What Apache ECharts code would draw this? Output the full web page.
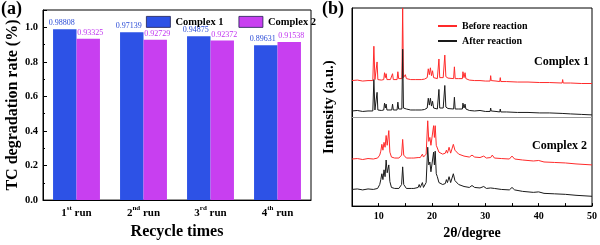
<!DOCTYPE html>
<html><head><meta charset="utf-8">
<script src="https://cdn.jsdelivr.net/npm/echarts@6/dist/echarts.min.js"></script>
<style>html,body{margin:0;padding:0;background:#fff}#c{width:600px;height:245px}</style>
</head><body><div id="c"></div><script>
// ---- Panel (a) data ----
const categories = ['1st run', '2nd run', '3rd run', '4th run'];
const complex1Rates = [0.98808, 0.97139, 0.94875, 0.89631];
const complex2Rates = [0.93325, 0.92729, 0.92372, 0.91538];
const seriesNamesA = ['Complex 1', 'Complex 2'];

// ---- Panel (b) data: [2θ, intensity (a.u.)] ----
const c1Before = [[5,128],[6,128.5],[7,127.5],[8,128],[8.9,128],[9.1,163],[9.3,129],[9.55,129],[9.7,147],[9.85,129],[10.5,128.5],[10.95,129],[11.1,136],[11.25,131],[11.4,135],[11.55,129],[12.2,129],[12.45,129],[12.6,135],[12.75,129],[13.45,129],[13.6,137],[13.75,130],[14.35,130],[14.5,202],[14.65,131],[14.85,130],[15.0,134],[15.2,130],[16,129],[16.85,129],[17.0,131],[17.15,129],[18,129],[18.6,129.5],[19.1,131],[19.3,140],[19.5,134],[19.7,141],[19.9,133],[20.1,138],[20.3,131],[21.0,130],[21.15,131],[21.3,150],[21.45,131],[22.1,131],[22.4,154],[22.6,132],[23,130.5],[24.05,130],[24.2,142],[24.35,130],[25,130],[25.7,130],[25.8,137],[26.0,131],[26.2,136],[26.35,130],[27,128.5],[28,128],[29,128],[30,127.5],[30.9,127.5],[31.0,133],[31.1,128],[32,127.5],[32.7,127],[32.8,131],[32.9,127],[34,127],[36,126.5],[38,126.5],[40.2,126],[40.3,128],[40.4,126],[42,126],[44.4,125.5],[44.5,129],[44.6,125.5],[46,125.5],[48,125],[50,125]];
const c1After = [[5,97],[6,97.5],[7,96.5],[8,97],[8.9,97],[9.1,129],[9.3,98],[9.55,98],[9.7,116],[9.85,98],[10.5,97.5],[10.95,98],[11.1,105],[11.25,100],[11.4,104],[11.55,98],[12.45,98],[12.6,104],[12.75,98],[13.45,98],[13.6,106],[13.75,99],[14.35,99],[14.5,160],[14.65,100],[14.85,99],[15.0,102],[15.2,99],[16,98],[16.85,98],[17.0,100],[17.15,98],[18,98],[18.6,98.5],[19.1,100],[19.3,110],[19.5,103],[19.7,110],[19.9,102],[20.1,107],[20.3,100],[21.0,99],[21.3,119],[21.45,100],[22.1,100],[22.4,123],[22.6,101],[23,99.5],[24.05,99],[24.2,111],[24.35,99],[25,99],[25.7,99],[25.8,105],[26.0,100],[26.2,104],[26.35,99],[27,97.5],[28,97],[29,97.5],[30,96.5],[30.9,96.5],[31.0,100],[31.1,97],[32,96.5],[32.7,96],[32.8,99],[32.9,96],[34,96],[36,95.5],[38,95.5],[40.2,95],[40.3,96],[40.4,95],[42,95],[44.4,94.5],[44.5,96],[44.6,94.5],[46,94],[48,93.5],[50,93]];
const c2Before = [[5,48],[6,48.5],[7,47.5],[8,48.5],[9,48],[9.8,49],[10.2,52],[10.4,56],[10.6,63],[10.8,57],[11.0,65],[11.2,60],[11.4,72],[11.6,62],[11.9,77],[12.1,55],[12.4,50],[13,49],[13.8,49],[14.3,52],[14.5,68],[14.7,52],[15.2,49],[16.2,49],[16.4,51],[16.6,49],[17.4,49.5],[17.6,51],[17.8,49.5],[18.0,50],[18.2,53],[18.4,50],[18.9,53],[19.2,87],[19.4,66],[19.6,70],[19.8,62],[20.0,60],[20.3,82],[20.45,70],[20.6,82],[20.8,62],[21.0,60],[21.3,55],[22,53],[22.5,54],[22.7,57],[22.9,54],[23.2,60],[23.5,54],[23.8,56],[24.0,63],[24.3,57],[25,53],[26,51],[27,50],[27.5,52],[28,50],[29,49.5],[29.7,51],[30.2,49],[31,49.5],[31.3,52],[31.7,49],[33,48.5],[34.5,48],[35.0,51],[35.5,48],[37,47],[39,46],[40,46.5],[41,45],[43,44.5],[45,44],[47,43],[50,42]];
const c2After = [[5,17],[6,17.5],[7,16.5],[8,17.5],[9,17],[9.8,18],[10.2,22],[10.4,27],[10.6,33],[10.8,27],[11.0,37],[11.2,30],[11.4,47],[11.6,34],[11.9,42],[12.1,25],[12.4,19],[13,18],[13.8,18],[14.3,22],[14.5,40],[14.7,22],[15.2,18],[16.2,18],[16.4,20],[16.6,18],[17.4,19],[17.6,22],[17.8,19],[18.0,20],[18.2,24],[18.4,19],[18.9,24],[19.2,60],[19.4,42],[19.6,45],[19.8,35],[20.0,33],[20.3,55],[20.45,42],[20.6,56],[20.8,33],[21.0,30],[21.3,24],[22,22],[22.5,23],[22.7,27],[22.9,24],[23.2,30],[23.5,24],[23.8,26],[24.0,33],[24.3,26],[25,22],[26,20],[27,19],[27.5,21],[28,19],[29,18.5],[29.7,20],[30.2,18],[31,18.5],[31.3,20],[31.7,18],[33,17],[34.5,16.5],[35.0,19],[35.5,16.5],[37,15],[39,14],[40,14.5],[41,13],[43,12.5],[45,12],[47,11],[50,10]];
const separatorLevel = 91;
const seriesNamesB = ['Before reaction', 'After reaction'];

// ---- Styling ----
const serif = 'Liberation Serif';
const blue = '#2d52e6', magenta = '#c83ff0';
const red = '#ff2a2a', black = '#1a1a1a';

function runLabel(v) {
  const m = /^(\d)(st|nd|rd|th)(.*)$/.exec(v);
  return m ? '{n|' + m[1] + '}{s|' + m[2] + '}{n|' + m[3] + '}' : v;
}

const chart = echarts.init(document.getElementById('c'), null, {renderer: 'canvas'});
chart.setOption({
  animation: false,
  textStyle: {fontFamily: serif},
  grid: [
    {left: 43, top: 10, width: 268, height: 199, show: true, borderColor: '#000', borderWidth: 1, containLabel: false},
    {left: 352, top: 8, width: 241, height: 202, show: true, borderColor: '#000', borderWidth: 1, containLabel: false}
  ],
  legend: [
    {data: seriesNamesA, left: 141, top: 11, itemWidth: 24, itemHeight: 11, itemGap: 15, icon: 'rect',
     textStyle: {fontFamily: serif, fontWeight: 'bold', fontSize: 10.5, color: '#000'},
     itemStyle: {borderColor: '#202050', borderWidth: 0.8}},
    {data: seriesNamesB, orient: 'vertical', left: 433, top: 16, itemWidth: 19, itemHeight: 2, itemGap: 5, icon: 'rect',
     textStyle: {fontFamily: serif, fontWeight: 'bold', fontSize: 10, color: '#000'}}
  ],
  xAxis: [
    {type: 'category', gridIndex: 0, data: categories,
     axisLine: {lineStyle: {color: '#000', width: 1}},
     axisTick: {inside: true, length: 4, lineStyle: {color: '#000'}},
     axisLabel: {interval: 0, margin: 5, color: '#000', formatter: runLabel,
       rich: {n: {fontFamily: serif, fontWeight: 'bold', fontSize: 11, color: '#000', lineHeight: 14, verticalAlign: 'bottom'},
              s: {fontFamily: serif, fontWeight: 'bold', fontSize: 7, color: '#000', lineHeight: 14, verticalAlign: 'top', padding: [0, 0, 6, 0]}}},
     name: 'Recycle times', nameLocation: 'middle', nameGap: 19,
     nameTextStyle: {fontFamily: serif, fontWeight: 'bold', fontSize: 16, color: '#000'}},
    {type: 'value', gridIndex: 1, min: 5, max: 50, interval: 5, splitLine: {show: false},
     axisLine: {lineStyle: {color: '#000', width: 1}},
     axisTick: {inside: true, length: 3, lineStyle: {color: '#000'}},
     axisLabel: {margin: 5, color: '#000', fontFamily: serif, fontWeight: 'bold', fontSize: 10,
       formatter: v => (v % 10 === 0 ? String(v) : '')},
     name: '2θ/degree', nameLocation: 'middle', nameGap: 19,
     nameTextStyle: {fontFamily: serif, fontWeight: 'bold', fontSize: 14, color: '#000'}}
  ],
  yAxis: [
    {type: 'value', gridIndex: 0, min: 0, max: 1.1, interval: 0.2, splitLine: {show: false},
     axisLine: {show: true, lineStyle: {color: '#000', width: 1}},
     axisTick: {show: true, inside: true, length: 4, lineStyle: {color: '#000'}},
     minorTick: {show: true, splitNumber: 2, length: 2, lineStyle: {color: '#000'}},
     axisLabel: {showMaxLabel: false, margin: 5, color: '#000', fontFamily: serif, fontWeight: 'bold', fontSize: 10.5,
       formatter: v => v.toFixed(1)},
     name: 'TC degradation rate (%)', nameLocation: 'middle', nameGap: 22, nameRotate: 90,
     nameTextStyle: {fontFamily: serif, fontWeight: 'bold', fontSize: 16, color: '#000'}},
    {type: 'value', gridIndex: 1, min: 0, max: 202, splitLine: {show: false},
     axisLine: {show: true, lineStyle: {color: '#000', width: 1}},
     axisTick: {show: false}, axisLabel: {show: false},
     name: 'Intensity (a.u.)', nameLocation: 'middle', nameGap: 15, nameRotate: 90,
     nameTextStyle: {fontFamily: serif, fontWeight: 'bold', fontSize: 15, color: '#000'}}
  ],
  graphic: [
    {type: 'text', left: 1, top: 0, style: {text: '(a)', fontFamily: serif, fontWeight: 'bold', fontSize: 18, fill: '#000'}},
    {type: 'text', left: 322, top: 0, style: {text: '(b)', fontFamily: serif, fontWeight: 'bold', fontSize: 18, fill: '#000'}},
    {type: 'text', left: 534, top: 56, style: {text: 'Complex 1', fontFamily: serif, fontWeight: 'bold', fontSize: 12, fill: '#000'}},
    {type: 'text', left: 532, top: 140, style: {text: 'Complex 2', fontFamily: serif, fontWeight: 'bold', fontSize: 12, fill: '#000'}}
  ],
  series: [
    {name: seriesNamesA[0], type: 'bar', xAxisIndex: 0, yAxisIndex: 0, data: complex1Rates,
     barGap: '0%', barCategoryGap: '30%', itemStyle: {color: blue},
     label: {show: true, position: 'top', distance: 2, offset: [-3, 0], color: '#2a4bd6', fontFamily: serif, fontSize: 8,
       formatter: p => String(p.value)}},
    {name: seriesNamesA[1], type: 'bar', xAxisIndex: 0, yAxisIndex: 0, data: complex2Rates,
     barGap: '0%', barCategoryGap: '30%', itemStyle: {color: magenta},
     label: {show: true, position: 'top', distance: 2, offset: [2, 0], color: '#c033f0', fontFamily: serif, fontSize: 8,
       formatter: p => String(p.value)}},
    {name: seriesNamesB[0], type: 'line', xAxisIndex: 1, yAxisIndex: 1, data: c1Before, symbol: 'none',
     lineStyle: {color: red, width: 1}, itemStyle: {color: red}},
    {name: seriesNamesB[1], type: 'line', xAxisIndex: 1, yAxisIndex: 1, data: c1After, symbol: 'none',
     lineStyle: {color: black, width: 1}, itemStyle: {color: black},
     markLine: {silent: true, symbol: 'none', label: {show: false},
       lineStyle: {color: '#9a9a9a', width: 1.2, type: 'solid'}, data: [{yAxis: separatorLevel}]}},
    {name: seriesNamesB[0], type: 'line', xAxisIndex: 1, yAxisIndex: 1, data: c2Before, symbol: 'none',
     lineStyle: {color: red, width: 1}, itemStyle: {color: red}},
    {name: seriesNamesB[1], type: 'line', xAxisIndex: 1, yAxisIndex: 1, data: c2After, symbol: 'none',
     lineStyle: {color: black, width: 1}, itemStyle: {color: black}}
  ]
});
</script></body></html>
